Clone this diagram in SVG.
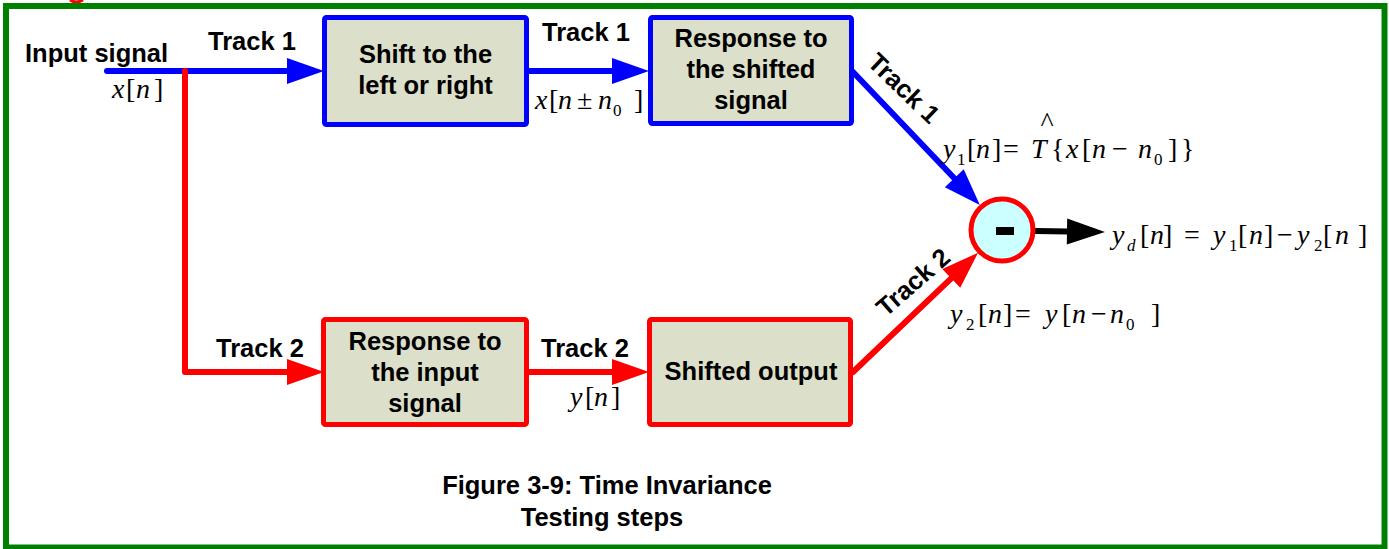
<svg xmlns="http://www.w3.org/2000/svg" width="1389" height="549" viewBox="0 0 1389 549">
<style>
.frame{fill:none;stroke:#008000;stroke-width:6}
.box{fill:#dcdfca;stroke-width:5;stroke-linejoin:round}
.bl{stroke:#0000ff}
.rd{stroke:#ff0000}
.t{font-family:"Liberation Sans",Arial,sans-serif;font-weight:bold;font-size:25.5px;fill:#000}
.c{text-anchor:middle}
.m{font-family:"Liberation Serif","Times New Roman",serif;font-size:28px;fill:#000}
.i{font-style:italic}
.s{font-size:17px}
.wb{fill:none;stroke:#0000ff;stroke-width:6;stroke-linecap:round;stroke-linejoin:round}
.wr{fill:none;stroke:#ff0000;stroke-width:6;stroke-linecap:round;stroke-linejoin:round}
.wk{fill:none;stroke:#000;stroke-width:6;stroke-linecap:round}
</style>
<defs>
<marker id="ab" markerUnits="userSpaceOnUse" markerWidth="38" markerHeight="26" refX="0" refY="13" orient="auto" overflow="visible"><path d="M-1,0 L36,13 L-1,26 z" fill="#0000ff"/></marker>
<marker id="ar" markerUnits="userSpaceOnUse" markerWidth="38" markerHeight="26" refX="0" refY="13" orient="auto" overflow="visible"><path d="M-1,0 L36,13 L-1,26 z" fill="#ff0000"/></marker>
<marker id="ak" markerUnits="userSpaceOnUse" markerWidth="38" markerHeight="26" refX="0" refY="13" orient="auto" overflow="visible"><path d="M-1,0 L37,13 L-1,26 z" fill="#000"/></marker>
</defs>
<rect width="1389" height="549" fill="#fff"/>
<path d="M70,0 Q76,4 83,0" fill="none" stroke="#ff0000" stroke-width="3"/>
<rect class="frame" x="6" y="6" width="1378.5" height="541.5"/>

<g id="connectors">
<path class="wb" d="M107,71 L288,71" marker-end="url(#ab)"/>
<path class="wb" d="M529,71 L613,71" marker-end="url(#ab)"/>
<path class="wr" d="M185,71 L185,372 L288,372" marker-end="url(#ar)"/>
<path class="wr" d="M529,372 L613,372" marker-end="url(#ar)"/>
<path class="wb" d="M853,72 L955,179" marker-end="url(#ab)"/>
<path class="wr" d="M853,372 L952,277.6" marker-end="url(#ar)"/>
<path class="wk" d="M1036,231 L1068,231.5" marker-end="url(#ak)"/>
</g>

<g id="labels">
<text class="t" x="25" y="62">Input signal</text>
<text class="t" x="208" y="50">Track 1</text>
<text class="t" x="542" y="41">Track 1</text>
<text class="t" x="216" y="357">Track 2</text>
<text class="t" x="541" y="357">Track 2</text>
<text class="t c" transform="translate(904,88) rotate(44)" y="9">Track 1</text>
<text class="t c" transform="translate(913,282) rotate(-41)" y="9">Track 2</text>
<text class="m"><tspan class="i" x="112" y="98">x</tspan><tspan x="126">[</tspan><tspan class="i" x="136">n</tspan><tspan x="154">]</tspan></text>
<text class="m"><tspan class="i" x="535" y="109">x</tspan><tspan x="549">[</tspan><tspan class="i" x="558">n</tspan><tspan x="577">±</tspan><tspan class="i" x="598">n</tspan><tspan class="s" x="613" y="116">0</tspan><tspan x="634" y="109">]</tspan></text>
<text class="m"><tspan class="i" x="570" y="406">y</tspan><tspan x="585">[</tspan><tspan class="i" x="594">n</tspan><tspan x="611">]</tspan></text>
<text class="m"><tspan class="i" x="943" y="158">y</tspan><tspan class="s" x="957" y="165">1</tspan><tspan x="967" y="158">[</tspan><tspan class="i" x="976">n</tspan><tspan x="992">]</tspan><tspan x="1003">=</tspan><tspan class="i" x="1031">T</tspan><tspan x="1051">{</tspan><tspan class="i" x="1066">x</tspan><tspan x="1082">[</tspan><tspan class="i" x="1092">n</tspan><tspan x="1112">−</tspan><tspan class="i" x="1138">n</tspan><tspan class="s" x="1154" y="165">0</tspan><tspan x="1168" y="158">]</tspan><tspan x="1181">}</tspan></text>
<text class="m c" x="1047" y="131" font-size="17">^</text>
<text class="m"><tspan class="i" x="950" y="323">y</tspan><tspan class="s" x="966" y="330">2</tspan><tspan x="978" y="323">[</tspan><tspan class="i" x="988">n</tspan><tspan x="1003">]</tspan><tspan x="1015">=</tspan><tspan class="i" x="1045">y</tspan><tspan x="1062">[</tspan><tspan class="i" x="1072">n</tspan><tspan x="1091">−</tspan><tspan class="i" x="1110">n</tspan><tspan class="s" x="1126" y="330">0</tspan><tspan x="1151" y="323">]</tspan></text>
<text class="m"><tspan class="i" x="1112" y="244">y</tspan><tspan class="s i" x="1127" y="251">d</tspan><tspan x="1140" y="244">[</tspan><tspan class="i" x="1150">n</tspan><tspan x="1163">]</tspan><tspan x="1184">=</tspan><tspan class="i" x="1213">y</tspan><tspan class="s" x="1229" y="251">1</tspan><tspan x="1238" y="244">[</tspan><tspan class="i" x="1249">n</tspan><tspan x="1264">]</tspan><tspan x="1277">−</tspan><tspan class="i" x="1297">y</tspan><tspan class="s" x="1314" y="251">2</tspan><tspan x="1323" y="244">[</tspan><tspan class="i" x="1335">n</tspan><tspan x="1358">]</tspan></text>
<text class="t c" x="607" y="494">Figure 3-9: Time Invariance</text>
<text class="t c" x="602" y="526">Testing steps</text>
</g>

<g id="shift">
<rect class="box bl" x="324.5" y="17.5" width="202" height="107" rx="2"/>
<text class="t c" x="425.5" y="63">Shift to the</text>
<text class="t c" x="425.5" y="94">left or right</text>
</g>
<g id="response-shifted">
<rect class="box bl" x="650.5" y="17.5" width="201" height="106" rx="2"/>
<text class="t c" x="751" y="47">Response to</text>
<text class="t c" x="751" y="78">the shifted</text>
<text class="t c" x="751" y="109">signal</text>
</g>
<g id="response-input">
<rect class="box rd" x="323.5" y="319.5" width="203" height="105" rx="2"/>
<text class="t c" x="425" y="350">Response to</text>
<text class="t c" x="425" y="381">the input</text>
<text class="t c" x="425" y="412">signal</text>
</g>
<g id="shifted-output">
<rect class="box rd" x="649.5" y="319.5" width="201" height="105" rx="2"/>
<text class="t c" x="751" y="380">Shifted output</text>
</g>
<g id="difference">
<circle cx="1002" cy="230" r="31" fill="#ccffff" stroke="#ff0000" stroke-width="5"/>
<rect x="996" y="227" width="18" height="8" fill="#000"/>
</g>
</svg>
